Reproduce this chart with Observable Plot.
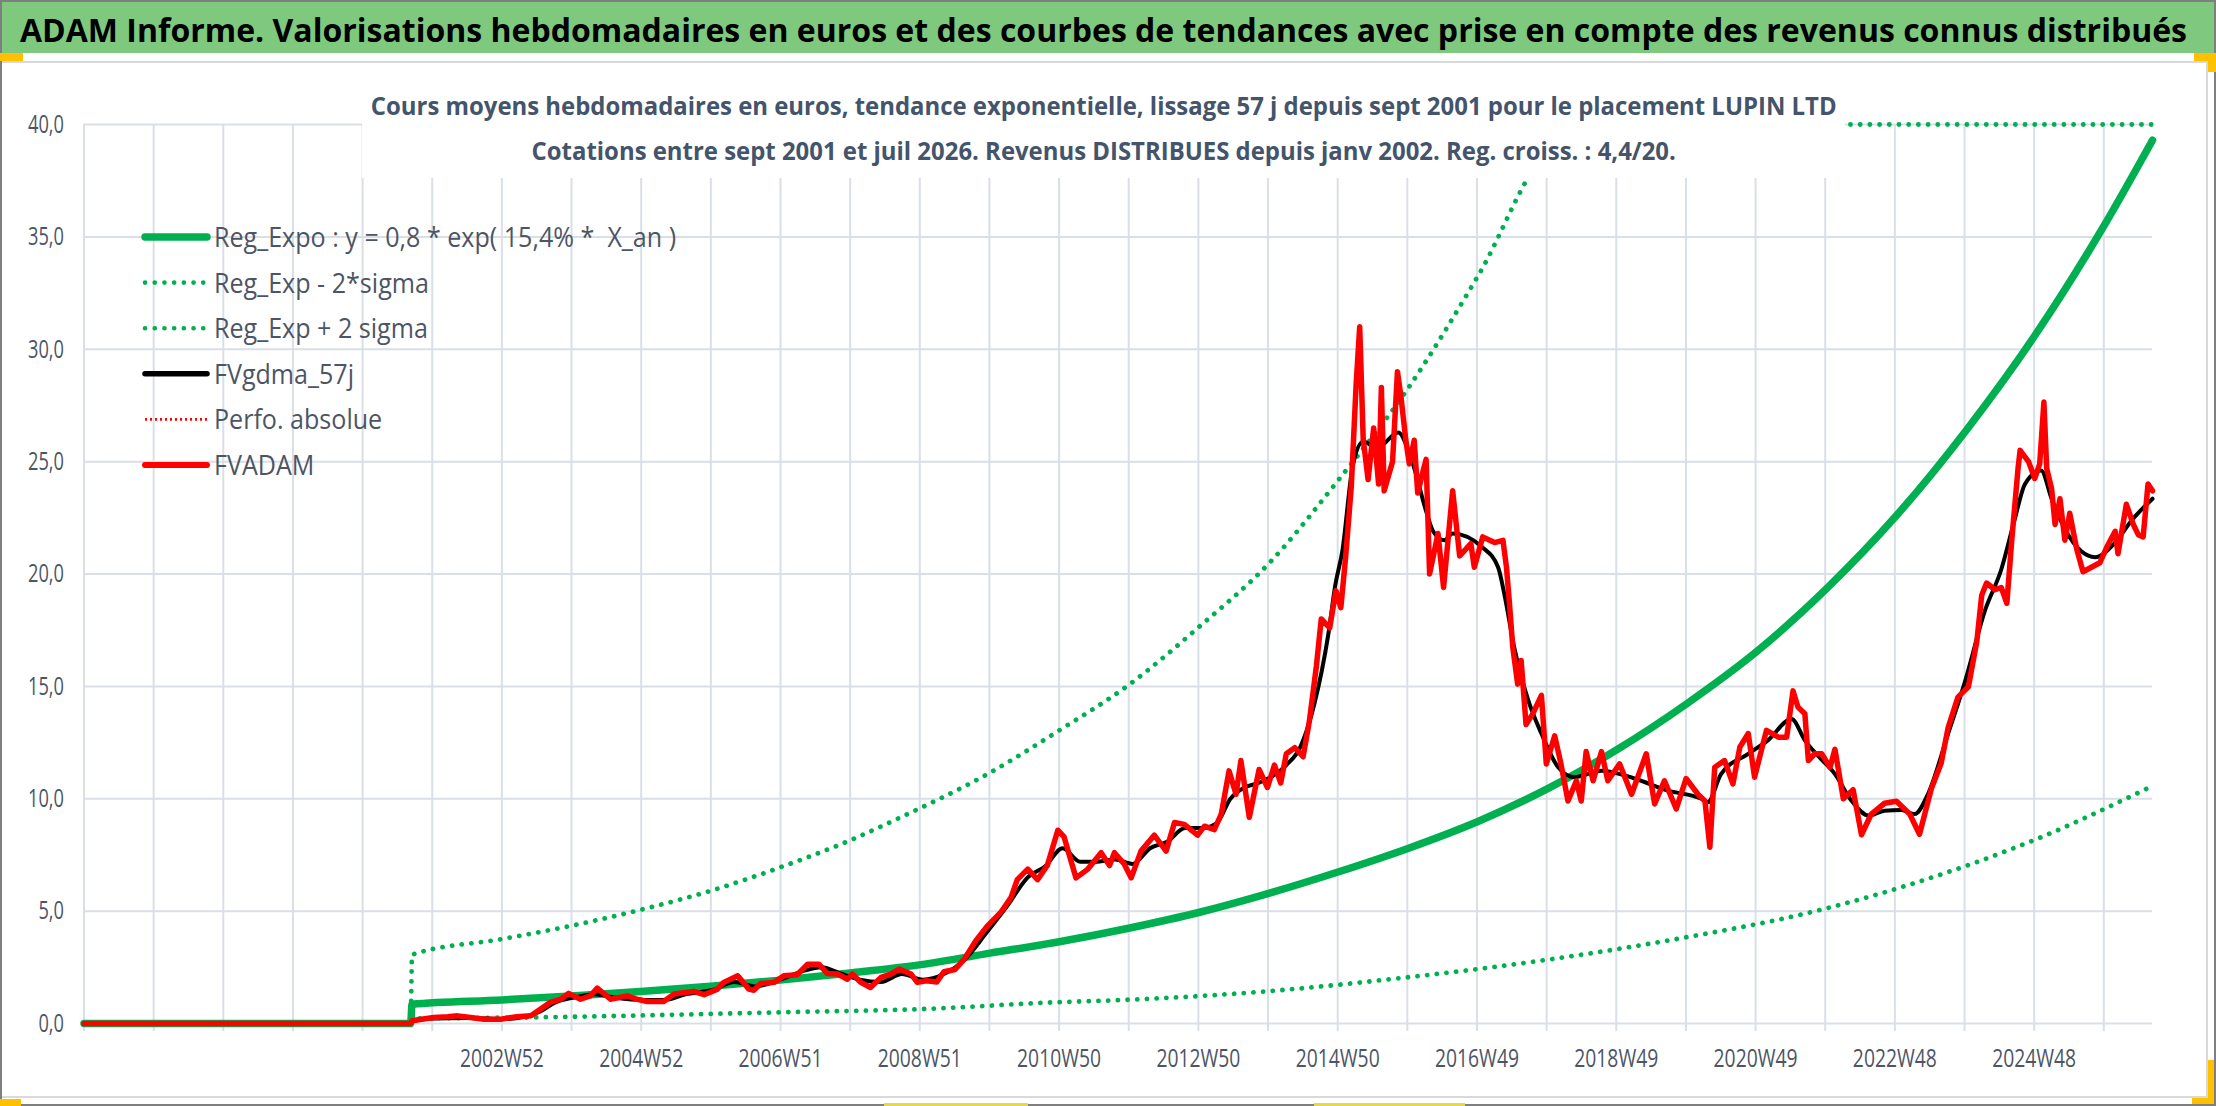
<!DOCTYPE html>
<html><head><meta charset="utf-8">
<script src="https://cdn.jsdelivr.net/npm/d3@7"></script>
<script src="https://cdn.jsdelivr.net/npm/@observablehq/plot@0.6"></script>
<style>
html,body{margin:0;padding:0;background:#fff;}
#page{position:relative;width:2216px;height:1106px;overflow:hidden;background:#fff;}
#chart{position:absolute;left:0;top:0;}
#overlay{position:absolute;left:0;top:0;}
</style></head>
<body><div id="page"><div id="chart"></div><svg id="overlay" width="2216" height="1106"></svg></div>
<script>
// ---------- DATA ----------
const titleText = "ADAM Informe. Valorisations hebdomadaires en euros et des courbes de tendances avec prise en compte des revenus connus distribués";
const subtitleLines = [
  "Cours moyens hebdomadaires en euros, tendance exponentielle, lissage 57 j depuis sept 2001 pour le placement LUPIN LTD",
  "Cotations entre sept 2001 et juil 2026. Revenus DISTRIBUES depuis janv 2002. Reg. croiss. : 4,4/20."
];
const legendLabels = ["Reg_Expo : y = 0,8 * exp( 15,4% *  X_an )", "Reg_Exp - 2*sigma", "Reg_Exp + 2 sigma", "FVgdma_57j", "Perfo. absolue", "FVADAM"];
const xTickLabels = ["2002W52","2004W52","2006W51","2008W51","2010W50","2012W50","2014W50","2016W49","2018W49","2020W49","2022W48","2024W48"];
const yTicks = [0, 5, 10, 15, 20, 25, 30, 35, 40];
const xStart = 1996.996, xEnd = 2026.594;   // first and last week shown (decimal years)

// Reg_Expo (solid green)
const regExpo = [[1996.996,0],[2001.67,0],[2001.69,0.86],[2002.98,1.05],[2003.97,1.22],[2004.96,1.42],[2005.96,1.66],[2006.96,1.93],[2007.96,2.25],[2008.97,2.62],[2009.96,3.13],[2010.97,3.65],[2011.96,4.25],[2012.96,4.95],[2013.96,5.8],[2014.95,6.75],[2015.95,7.8],[2016.95,9.0],[2017.94,10.45],[2018.94,12.2],[2019.94,14.25],[2020.95,16.6],[2021.93,19.35],[2022.93,22.6],[2023.93,26.4],[2024.93,30.7],[2025.92,35.6],[2026.594,39.3]];
// Reg_Exp - 2*sigma (lower dotted)
const regLow = [[1996.996,0],[2001.67,0],[2001.69,0.22],[2003.4,0.27],[2005.0,0.36],[2007.0,0.5],[2008.97,0.64],[2010.95,0.95],[2011.55,1.01],[2013.91,1.43],[2015.86,2.03],[2017.85,2.8],[2019.8,3.77],[2021.77,5.0],[2023.24,6.3],[2024.93,8.2],[2026.594,10.57]];
// Reg_Exp + 2 sigma (upper dotted, shown clamped at the axis maximum)
const regHigh = [[1996.996,0],[2001.67,0],[2001.69,3.06],[2002.98,3.76],[2003.97,4.35],[2004.96,5.06],[2005.96,5.9],[2006.96,6.95],[2007.95,8.14],[2008.68,9.17],[2009.96,11.16],[2010.96,13.06],[2011.96,15.1],[2012.96,17.67],[2013.96,20.5],[2014.95,24.2],[2015.95,28.3],[2016.95,33.3],[2017.95,38.8],[2018.94,45],[2020.0,53],[2022.0,72],[2024.0,97],[2026.594,140]];
// FVgdma_57j (black, smoothed)
const fvgdma = [[1996.996,0],[2001.67,0],[2001.69,0.1],[2002.0,0.22],[2002.5,0.25],[2003.0,0.2],[2003.3,0.3],[2003.5,0.5],[2003.75,0.95],[2004.0,1.15],[2004.3,1.3],[2004.6,1.15],[2005.0,1.05],[2005.3,1.05],[2005.6,1.3],[2006.0,1.5],[2006.3,1.85],[2006.6,1.65],[2007.0,2.0],[2007.3,2.35],[2007.55,2.5],[2007.8,2.25],[2008.1,1.95],[2008.4,1.85],[2008.7,2.2],[2009.0,1.95],[2009.3,2.2],[2009.6,2.85],[2009.9,4.0],[2010.2,5.2],[2010.5,6.5],[2010.75,7.0],[2011.0,7.8],[2011.25,7.2],[2011.5,7.2],[2011.75,7.3],[2012.0,7.1],[2012.25,7.8],[2012.5,8.1],[2012.75,8.7],[2013.0,8.7],[2013.2,8.9],[2013.4,10.0],[2013.6,10.5],[2013.8,10.7],[2014.0,11.0],[2014.2,11.5],[2014.4,12.3],[2014.6,14.2],[2014.8,17.3],[2014.9,19.5],[2015.0,21.0],[2015.15,24.8],[2015.3,25.9],[2015.5,25.6],[2015.8,26.3],[2016.0,25.0],[2016.2,22.8],[2016.3,21.9],[2016.46,21.5],[2016.58,21.8],[2017.0,21.2],[2017.23,20.3],[2017.32,19.1],[2017.46,16.75],[2017.66,14.4],[2017.85,12.9],[2018.09,11.4],[2018.32,10.96],[2018.71,11.25],[2019.18,10.9],[2019.66,10.36],[2020.14,10.0],[2020.23,9.84],[2020.42,11.1],[2020.81,12.0],[2021.09,12.6],[2021.43,13.55],[2021.62,12.6],[2021.81,11.9],[2022.05,11.1],[2022.29,9.9],[2022.53,9.25],[2022.76,9.47],[2023.0,9.5],[2023.19,9.32],[2023.38,10.2],[2023.67,12.9],[2023.91,15.2],[2024.2,18.4],[2024.43,20.2],[2024.62,22.4],[2024.77,24.0],[2025.0,24.6],[2025.15,23.35],[2025.34,22.0],[2025.58,21.0],[2025.77,20.75],[2026.06,21.4],[2026.3,22.4],[2026.594,23.35]];
// FVADAM (red, weekly valuation)
const fvadam = [[1996.996,0],[2001.67,0],[2001.69,0.12],[2001.85,0.2],[2002.0,0.27],[2002.2,0.3],[2002.34,0.34],[2002.5,0.28],[2002.72,0.19],[2002.96,0.19],[2003.19,0.3],[2003.39,0.34],[2003.53,0.64],[2003.67,0.94],[2003.82,1.08],[2003.93,1.34],[2004.1,1.08],[2004.24,1.23],[2004.34,1.57],[2004.53,1.08],[2004.77,1.23],[2004.91,1.08],[2005.06,0.98],[2005.29,0.98],[2005.44,1.31],[2005.72,1.43],[2005.87,1.28],[2006.06,1.53],[2006.15,1.83],[2006.35,2.12],[2006.51,1.53],[2006.58,1.48],[2006.68,1.78],[2006.87,1.83],[2007.01,2.12],[2007.2,2.17],[2007.35,2.64],[2007.51,2.64],[2007.63,2.23],[2007.78,2.2],[2007.92,1.97],[2007.99,2.2],[2008.11,1.83],[2008.25,1.6],[2008.4,2.05],[2008.54,2.2],[2008.66,2.42],[2008.83,2.2],[2008.92,1.83],[2009.05,1.9],[2009.2,1.85],[2009.3,2.3],[2009.46,2.4],[2009.6,2.9],[2009.76,3.7],[2009.92,4.33],[2010.12,4.97],[2010.26,5.6],[2010.35,6.4],[2010.5,6.87],[2010.64,6.4],[2010.78,7.03],[2010.93,8.6],[2011.02,8.3],[2011.19,6.48],[2011.36,6.87],[2011.55,7.6],[2011.67,7.03],[2011.74,7.6],[2011.88,7.1],[2011.98,6.48],[2012.12,7.67],[2012.31,8.38],[2012.48,7.67],[2012.6,8.94],[2012.74,8.86],[2012.93,8.38],[2013.03,8.78],[2013.17,8.62],[2013.27,9.33],[2013.38,11.24],[2013.48,10.2],[2013.55,11.7],[2013.67,9.17],[2013.81,11.3],[2013.93,10.5],[2014.03,11.5],[2014.12,10.7],[2014.2,12.0],[2014.32,12.27],[2014.44,11.87],[2014.53,13.46],[2014.63,15.9],[2014.7,18.0],[2014.82,17.6],[2014.91,19.25],[2014.98,18.5],[2015.05,20.8],[2015.13,23.9],[2015.2,28.5],[2015.25,31.0],[2015.3,26.0],[2015.37,24.2],[2015.45,26.5],[2015.52,24.0],[2015.56,28.3],[2015.6,23.7],[2015.72,25.0],[2015.79,29.0],[2015.84,27.9],[2015.91,25.95],[2015.96,24.9],[2016.03,25.95],[2016.08,23.6],[2016.15,24.5],[2016.2,25.1],[2016.25,20.0],[2016.37,21.8],[2016.45,19.4],[2016.58,23.7],[2016.68,20.8],[2016.84,21.35],[2016.89,20.3],[2017.01,21.65],[2017.18,21.4],[2017.3,21.5],[2017.35,20.3],[2017.39,18.8],[2017.44,16.75],[2017.51,15.1],[2017.56,16.15],[2017.63,13.3],[2017.73,13.8],[2017.85,14.6],[2017.92,11.55],[2018.04,12.8],[2018.13,11.55],[2018.23,9.9],[2018.35,10.8],[2018.42,9.9],[2018.49,12.1],[2018.59,10.8],[2018.71,12.1],[2018.8,10.8],[2018.97,11.55],[2019.14,10.2],[2019.35,12.0],[2019.47,9.77],[2019.61,10.8],[2019.78,9.55],[2019.92,10.9],[2020.09,10.2],[2020.19,9.9],[2020.26,7.84],[2020.33,11.4],[2020.47,11.7],[2020.59,10.66],[2020.69,12.3],[2020.81,12.9],[2020.9,10.96],[2021.07,13.04],[2021.24,12.74],[2021.36,12.74],[2021.45,14.8],[2021.52,14.08],[2021.62,13.78],[2021.67,11.7],[2021.76,12.0],[2021.86,12.0],[2021.98,11.4],[2022.05,12.2],[2022.17,10.0],[2022.31,10.4],[2022.43,8.4],[2022.57,9.32],[2022.76,9.8],[2022.93,9.89],[2023.12,9.32],[2023.26,8.42],[2023.43,10.45],[2023.57,11.58],[2023.67,13.17],[2023.81,14.52],[2023.96,14.98],[2024.08,17.0],[2024.15,19.05],[2024.22,19.6],[2024.34,19.3],[2024.43,19.4],[2024.51,18.7],[2024.58,21.5],[2024.67,24.7],[2024.7,25.5],[2024.82,25.0],[2024.91,24.25],[2024.98,24.9],[2025.04,27.65],[2025.08,24.7],[2025.15,23.8],[2025.2,22.2],[2025.27,23.35],[2025.34,21.5],[2025.41,22.7],[2025.51,21.1],[2025.6,20.1],[2025.72,20.3],[2025.84,20.5],[2025.94,21.2],[2026.06,21.9],[2026.1,20.9],[2026.22,23.1],[2026.32,22.2],[2026.39,21.75],[2026.46,21.65],[2026.53,24.0],[2026.594,23.7]];

// ---------- STYLE ----------
const GREEN = "#00b050", RED = "#ff0000", GRID = "#dadfe7", LABEL = "#4d5565";
const FONT = "'Open Sans', 'Noto Sans', sans-serif";
const yMax = 40;
const weekYear = 52 / 52.1775;                      // one Excel category-gridline step (52 weeks)
const gridTicks = d3.range(0, 30).map(k => xStart + k * weekYear);
const labelTicks = xTickLabels.map((_, i) => xStart + (6 + 2 * i) * weekYear);
const X = d => d[0], Y = d => Math.min(d[1], yMax);
const DOT = "0.1 9.6";

const plot = Plot.plot({
  width: 2216, height: 1106,
  marginLeft: 83.5, marginRight: 64, marginTop: 124, marginBottom: 83,
  x: {domain: [xStart, xEnd]},
  y: {domain: [0, yMax]},
  style: {fontFamily: FONT, fontSize: "26px", color: LABEL, background: "transparent", overflow: "visible"},
  marks: [
    Plot.gridX(gridTicks, {stroke: GRID, strokeOpacity: 1, strokeWidth: 2}),
    Plot.gridY(yTicks, {stroke: GRID, strokeOpacity: 1, strokeWidth: 2}),
    Plot.axisX(gridTicks, {tickSize: 8, tickFormat: () => "", stroke: GRID, strokeWidth: 2, strokeOpacity: 1}),
    Plot.axisX(labelTicks, {tickSize: 0, tickPadding: 25, tickFormat: d => xTickLabels[labelTicks.indexOf(d)], fill: LABEL}),
    Plot.axisY(yTicks, {tickSize: 0, tickPadding: 20, tickFormat: d => d.toFixed(1).replace(".", ","), fill: LABEL}),
    Plot.line(regExpo, {x: X, y: Y, stroke: GREEN, strokeWidth: 7.5, curve: "monotone-x"}),
    Plot.line(regLow, {x: X, y: Y, stroke: GREEN, strokeWidth: 4.8, strokeDasharray: DOT, strokeLinecap: "round", curve: "monotone-x"}),
    Plot.line(regHigh, {x: X, y: Y, stroke: GREEN, strokeWidth: 4.8, strokeDasharray: DOT, strokeLinecap: "round", curve: "monotone-x"}),
    Plot.line(fvgdma, {x: X, y: Y, stroke: "#000", strokeWidth: 4, curve: "monotone-x"}),
    Plot.line(fvadam, {x: X, y: Y, stroke: RED, strokeWidth: 5.5, strokeLinejoin: "round"})
  ]
});
document.getElementById("chart").append(plot);

// horizontal squeeze of tick labels (narrow reference font)
function squeezeGroup(nodes, refNode, target) {
  if (!nodes.length) return;
  const f = target / refNode.getComputedTextLength();
  nodes.forEach(n => { n.setAttribute("textLength", n.getComputedTextLength() * f); n.setAttribute("lengthAdjust", "spacingAndGlyphs"); });
}
const ps = d3.select(plot);
const xt = ps.selectAll('g[aria-label="x-axis tick label"] text').nodes().filter(n => n.textContent);
squeezeGroup(xt, xt[0], 84);
const yt = ps.selectAll('g[aria-label="y-axis tick label"] text').nodes();
squeezeGroup(yt, yt.find(n => n.textContent === "35,0"), 36);

// ---------- OVERLAY: frame, title band, chart title box, legend ----------
const ov = d3.select("#overlay");
ov.append("rect").attr("x", 0).attr("y", 62).attr("width", 2207).attr("height", 1035).attr("fill", "none").attr("stroke", "#d9d9d9").attr("stroke-width", 2);
ov.append("rect").attr("x", 0).attr("y", 2).attr("width", 2216).attr("height", 51).attr("fill", "#7fc97f");
ov.append("rect").attr("x", 1).attr("y", 1).attr("width", 2214).attr("height", 1104).attr("fill", "none").attr("stroke", "#7f7f7f").attr("stroke-width", 2);
[[0,53,23,8],[2194,53,22,8],[2208,53,8,19],[2192,1098,21,6],[2208,1060,6,44],[0,1099,21,7]].forEach(r =>
  ov.append("rect").attr("x", r[0]).attr("y", r[1]).attr("width", r[2]).attr("height", r[3]).attr("fill", "#ffc000"));
[[884,1103,144,3],[1314,1103,151,3]].forEach(r =>
  ov.append("rect").attr("x", r[0]).attr("y", r[1]).attr("width", r[2]).attr("height", r[3]).attr("fill", "#e3d84e"));

// text placed with a horizontal scale transform so its box is the squeezed one
function scaledText(parent, str, x, y, anchor, size, weight, fill) {
  const tx = parent.append("text").attr("x", 0).attr("y", 0).attr("text-anchor", anchor)
    .attr("font-family", FONT).attr("font-weight", weight).attr("font-size", size).attr("fill", fill)
    .style("white-space", "pre").text(str);
  tx.datum({x, y});
  return tx;
}
function applyScale(texts, f) {
  texts.forEach(t => { const d = t.datum(); t.attr("transform", `translate(${d.x},${d.y}) scale(${f},1)`); });
}

const title = scaledText(ov, titleText, 20, 42, "start", 33, 700, "#000");
applyScale([title], 2168 / title.node().getComputedTextLength());

ov.append("rect").attr("x", 362).attr("y", 64).attr("width", 1483).attr("height", 114).attr("fill", "#fff");
const s1 = scaledText(ov, subtitleLines[0], 1103.7, 115, "middle", 25.5, 700, "#44546a");
const s2 = scaledText(ov, subtitleLines[1], 1103.7, 160, "middle", 25.5, 700, "#44546a");
applyScale([s1, s2], 1466 / s1.node().getComputedTextLength());

const legendStyles = [
  {stroke: GREEN, w: 7.5, dash: null, cap: "round"},
  {stroke: GREEN, w: 4.6, dash: DOT, cap: "round"},
  {stroke: GREEN, w: 4.6, dash: DOT, cap: "round"},
  {stroke: "#000", w: 5.5, dash: null, cap: "round"},
  {stroke: RED, w: 2.6, dash: "2 3", cap: "butt"},
  {stroke: RED, w: 6, dash: null, cap: "round"}
];
const lg = ov.append("g");
const legTexts = [];
legendLabels.forEach((lab, i) => {
  const cy = 237 + i * 45.6, st = legendStyles[i];
  const ln = lg.append("line").attr("x1", 145).attr("x2", 207).attr("y1", cy).attr("y2", cy)
    .attr("stroke", st.stroke).attr("stroke-width", st.w).attr("stroke-linecap", st.cap);
  if (st.dash) ln.attr("stroke-dasharray", st.dash);
  legTexts.push(scaledText(lg, lab, 214, cy + 10, "start", 28, 400, LABEL));
});
applyScale(legTexts, 215 / legTexts[1].node().getComputedTextLength());
</script>
</body></html>
